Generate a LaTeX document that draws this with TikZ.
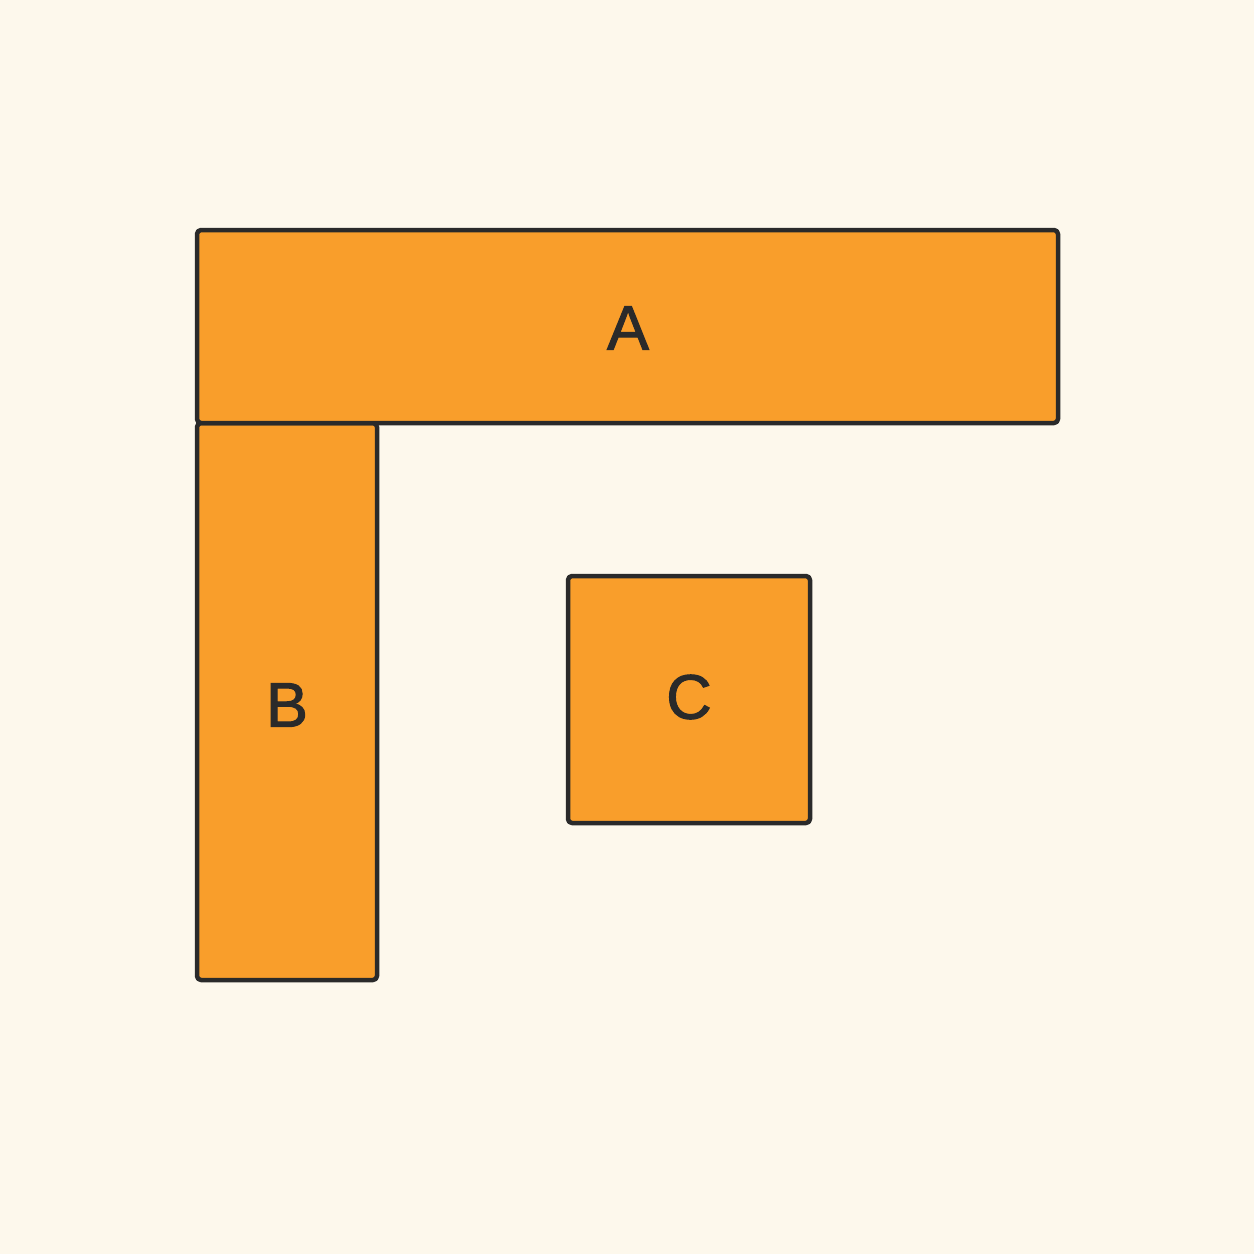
\documentclass[tikz,border=0pt]{standalone}
\usepackage{fontspec}
\setmainfont{Liberation Sans}
\newfontfamily\lblfont[FakeBold=1.6]{Liberation Sans}
\definecolor{bg}{HTML}{FDF8EC}
\definecolor{boxfill}{HTML}{F99E2B}
\definecolor{ink}{HTML}{2A2A2A}
\begin{document}
\begin{tikzpicture}[x=1pt,y=-1pt,
  blk/.style={draw=ink,fill=boxfill,line width=4.5pt,rounded corners=4pt,line join=round},
  lbl/.style={text=ink,font=\lblfont\fontsize{63}{63}\selectfont,inner sep=0pt}]
\fill[bg] (0,0) rectangle (1254,1254);
\useasboundingbox (0,0) rectangle (1254,1254);
\draw[blk] (197,423) rectangle (377,980);
\draw[blk] (197,230) rectangle (1058,423);
\draw[blk] (568,576) rectangle (810,823);
\node[lbl] (A) at (628,328) {A};
\node[lbl] (B) at (287,705) {B};
\node[lbl] (C) at (689,697) {C};
\end{tikzpicture}
\end{document}
